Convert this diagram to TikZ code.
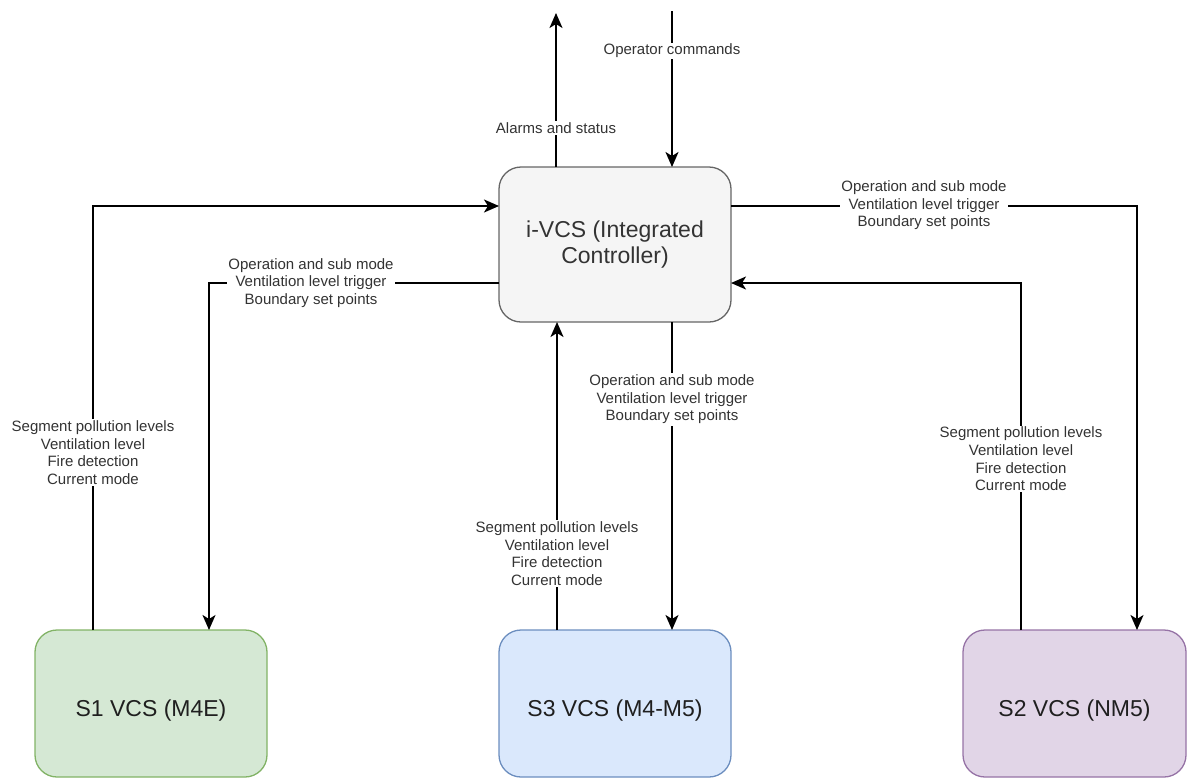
\documentclass[tikz,border=0pt]{standalone}
\usepackage{fontspec}
\setmainfont{Liberation Sans}
\usetikzlibrary{arrows.meta}

\definecolor{ctrlfill}{HTML}{F5F5F5}
\definecolor{ctrlline}{HTML}{666666}
\definecolor{greenfill}{HTML}{D5E8D4}
\definecolor{greenline}{HTML}{82B366}
\definecolor{bluefill}{HTML}{DAE8FC}
\definecolor{blueline}{HTML}{6C8EBF}
\definecolor{purplefill}{HTML}{E1D5E7}
\definecolor{purpleline}{HTML}{9673A6}
\definecolor{labeltext}{HTML}{333333}
\definecolor{boxtext}{HTML}{1F1F1F}

\tikzset{
  unitbox/.style={draw, rounded corners=22pt, line width=1.3pt, outer sep=0pt,
    minimum width=232pt, align=center,
    font=\fontsize{23}{26.7}\selectfont},
  subsys/.style={unitbox, minimum height=147pt, text=boxtext,
    text height=30pt, text depth=5pt},
  flow/.style={line width=1.8pt, draw=black,
    -{Stealth[length=15pt,width=13pt,inset=4pt]}},
  lbl/.style={fill=white, inner sep=1.5pt, align=center, text=labeltext,
    font=\fontsize{15}{17.6}\selectfont}
}

\begin{document}
\begin{tikzpicture}[x=1pt,y=-1pt]
\useasboundingbox (0,0) rectangle (1187,780);

% controller and the three sector controllers
\node[unitbox, minimum height=155pt, fill=ctrlfill, draw=ctrlline, text=labeltext]
  (ivcs) at (615,244.5) {i-VCS (Integrated\\Controller)};
\node[subsys, fill=greenfill, draw=greenline] (s1) at (151,703.5) {S1 VCS (M4E)};
\node[subsys, fill=bluefill, draw=blueline] (s3) at (615,703.5) {S3 VCS (M4-M5)};
\node[subsys, minimum width=223pt, fill=purplefill, draw=purpleline] (s2) at (1074.5,703.5) {S2 VCS (NM5)};

% routing points
\coordinate (alarmtop) at (556,13);
\coordinate (optop) at (672,11);
\coordinate (s1up) at (93,206);
\coordinate (s1down) at (209,283);
\coordinate (s3up) at (557,0);
\coordinate (s3down) at (672,0);
\coordinate (s2down) at (1137,206);
\coordinate (s2up) at (1021,283);

% external interfaces
\draw[flow] (ivcs.north -| alarmtop) -- (alarmtop);
\draw[flow] (optop) -- (ivcs.north -| optop);

% S1 loop
\draw[flow] (s1.north -| s1up) -- (s1up) -- (s1up -| ivcs.west);
\draw[flow] (s1down -| ivcs.west) -- (s1down) -- (s1.north -| s1down);

% S3 links
\draw[flow] (s3.north -| s3up) -- (ivcs.south -| s3up);
\draw[flow] (ivcs.south -| s3down) -- (s3.north -| s3down);

% S2 loop
\draw[flow] (s2down -| ivcs.east) -- (s2down) -- (s2.north -| s2down);
\draw[flow] (s2.north -| s2up) -- (s2up) -- (s2up -| ivcs.east);

% signal labels
\node[lbl] (lalarm) at (556,128) {Alarms and status};
\node[lbl] (lop) at (672,51) {Operator commands};
\node[lbl] (ls1up) at (93,452.5) {Segment pollution levels\\Ventilation level\\Fire detection\\Current mode};
\node[lbl] (ls1down) at (311,283) {Operation and sub mode\\Ventilation level trigger\\Boundary set points};
\node[lbl] (ls3up) at (557,553.5) {Segment pollution levels\\Ventilation level\\Fire detection\\Current mode};
\node[lbl] (ls3down) at (672,399.5) {Operation and sub mode\\Ventilation level trigger\\Boundary set points};
\node[lbl] (ls2down) at (924,205.5) {Operation and sub mode\\Ventilation level trigger\\Boundary set points};
\node[lbl] (ls2up) at (1021,459) {Segment pollution levels\\Ventilation level\\Fire detection\\Current mode};
\end{tikzpicture}
\end{document}
